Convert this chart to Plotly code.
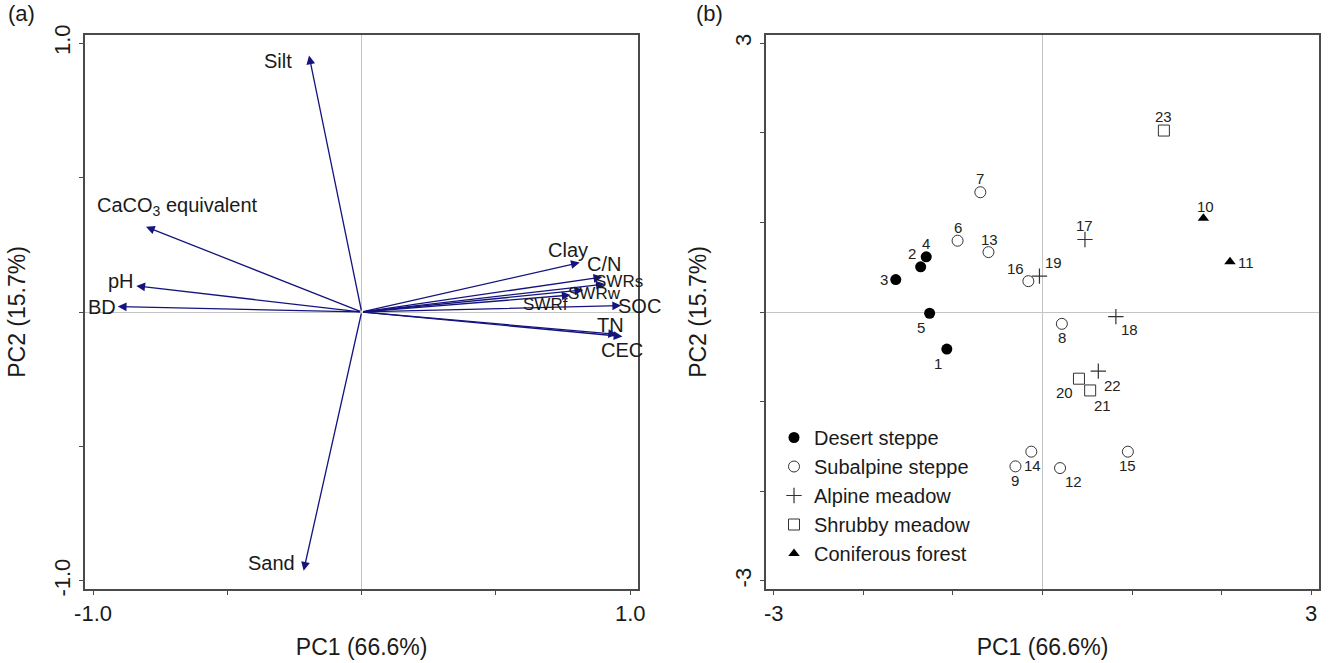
import plotly.graph_objects as go

# ---------------- Panel (a): variable loadings ----------------
variables = ["Silt", "Sand", "CaCO<sub>3</sub> equivalent", "pH", "BD", "Clay", "C/N",
             "SWRs", "SWRw", "SWRf", "SOC", "TN", "CEC"]
pc1_load = [-0.196, -0.216, -0.803, -0.839, -0.908, 0.812, 0.896,
            0.905, 0.825, 0.778, 0.966, 0.951, 0.971]
pc2_load = [0.954, -0.962, 0.317, 0.097, 0.020, 0.184, 0.130,
            0.104, 0.082, 0.063, 0.024, -0.083, -0.091]

# ---------------- Panel (b): site scores ----------------
site_ids = [str(i) for i in range(1, 24)]
pc1_score = [-1.068, -1.360, -1.638, -1.298, -1.260, -0.948, -0.694, 0.216, -0.302, 1.796,
             2.093, 0.196, -0.603, -0.125, 0.953, -0.158, 0.474, 0.819, -0.034, 0.407,
             0.532, 0.623, 1.355]
pc2_score = [-0.414, 0.504, 0.362, 0.616, -0.014, 0.795, 1.336, -0.132, -1.722, 1.045,
             0.560, -1.741, 0.668, -1.558, -1.558, 0.344, 0.809, -0.052, 0.400, -0.744,
             -0.875, -0.659, 2.024]
vegetation = ["Desert steppe", "Desert steppe", "Desert steppe", "Desert steppe", "Desert steppe",
              "Subalpine steppe", "Subalpine steppe", "Subalpine steppe", "Subalpine steppe",
              "Coniferous forest", "Coniferous forest", "Subalpine steppe", "Subalpine steppe",
              "Subalpine steppe", "Subalpine steppe", "Subalpine steppe", "Alpine meadow",
              "Alpine meadow", "Alpine meadow", "Shrubby meadow", "Shrubby meadow",
              "Alpine meadow", "Shrubby meadow"]
veg_order = ["Desert steppe", "Subalpine steppe", "Alpine meadow", "Shrubby meadow", "Coniferous forest"]

# ---------------- styles ----------------
FONT = "Liberation Sans, Arial, sans-serif"
ARROW = "#14147e"
FRAME = "#4a4a4a"
veg_style = {
    "Desert steppe": dict(symbol="circle", size=11, color="black", lw=0),
    "Subalpine steppe": dict(symbol="circle-open", size=11, color="#333", lw=1),
    "Alpine meadow": dict(symbol="cross-thin-open", size=11, color="#333", lw=1.2),
    "Shrubby meadow": dict(symbol="square-open", size=11, color="#333", lw=1),
    "Coniferous forest": dict(symbol="triangle-up", size=10, color="black", lw=0),
}
# label offsets (pixels: dx right, dy up) and font size for panel (a)
load_label_style = {
    "Silt": (-31, -6, 20), "Sand": (-32, 8, 20), "CaCO<sub>3</sub> equivalent": (32, 20, 20),
    "pH": (-15, 5, 20), "BD": (-16, 0, 20), "Clay": (-12, 13, 20), "C/N": (2, 13, 20),
    "SWRs": (14, 3, 17), "SWRw": (11, -4, 17), "SWRf": (-25, -9, 17), "SOC": (18, 0, 20),
    "TN": (-7, 9, 20), "CEC": (0, -14, 20),
}
# label offsets for panel (b)
site_label_off = {
    "1": (-9, -14), "2": (-9, 13), "3": (-12, 0), "4": (0, 13), "5": (-9, -14), "6": (0, 13),
    "7": (0, 14), "8": (0, -14), "9": (0, -14), "10": (2, 12), "11": (16, -1), "12": (13, -13),
    "13": (1, 13), "14": (1, -14), "15": (0, -14), "16": (-13, 13), "17": (0, 14),
    "18": (14, -13), "19": (14, 14), "20": (-14, -14), "21": (12, -15), "22": (14, -14),
    "23": (0, 14),
}

fig = go.Figure()

# invisible trace to anchor panel (a) axes
fig.add_trace(go.Scatter(x=pc1_load, y=pc2_load, mode="markers", marker=dict(size=1, opacity=0),
                         showlegend=False, hoverinfo="skip", xaxis="x", yaxis="y"))

annotations = []
for name, x, y in zip(variables, pc1_load, pc2_load):
    annotations.append(dict(x=x, y=y, ax=0, ay=0, xref="x", yref="y", axref="x", ayref="y",
                            text="", showarrow=True, arrowhead=2, arrowsize=1.35, arrowwidth=1.3,
                            arrowcolor=ARROW))
for name, x, y in zip(variables, pc1_load, pc2_load):
    dx, dy, fs = load_label_style[name]
    annotations.append(dict(x=x, y=y, xref="x", yref="y", text=name, showarrow=False,
                            xshift=dx, yshift=dy, font=dict(size=fs, color="#1a1a1a", family=FONT)))

for veg in veg_order:
    idx = [i for i, v in enumerate(vegetation) if v == veg]
    st = veg_style[veg]
    fig.add_trace(go.Scatter(
        x=[pc1_score[i] for i in idx], y=[pc2_score[i] for i in idx], mode="markers",
        name=veg, legendgroup=veg,
        marker=dict(symbol=st["symbol"], size=st["size"], color=st["color"],
                    line=dict(width=st["lw"], color=st["color"])),
        xaxis="x2", yaxis="y2"))

for sid, x, y in zip(site_ids, pc1_score, pc2_score):
    dx, dy = site_label_off[sid]
    annotations.append(dict(x=x, y=y, xref="x2", yref="y2", text=sid, showarrow=False,
                            xshift=dx, yshift=dy, font=dict(size=15, color="#222", family=FONT)))

annotations.append(dict(x=0.0, y=1.0, xref="paper", yref="paper", text="(a)", showarrow=False,
                        xanchor="left", yanchor="top", xshift=6, yshift=1,
                        font=dict(size=22, color="#1a1a1a", family=FONT)))
annotations.append(dict(x=0.518, y=1.0, xref="paper", yref="paper", text="(b)", showarrow=False,
                        xanchor="left", yanchor="top", xshift=4, yshift=1,
                        font=dict(size=22, color="#1a1a1a", family=FONT)))

W, H = 1332, 663
ax_common = dict(showgrid=False, zeroline=True, zerolinecolor="#c4c4c4", zerolinewidth=1,
                 showline=True, mirror=True, linecolor=FRAME, linewidth=1.5,
                 ticks="outside", ticklen=4, tickcolor=FRAME, tickwidth=1, automargin=False,
                 tickfont=dict(size=22, color="#1a1a1a", family=FONT))

fig.update_layout(
    width=W, height=H, margin=dict(l=0, r=0, t=0, b=0, autoexpand=False),
    paper_bgcolor="white", plot_bgcolor="white",
    font=dict(family=FONT, color="#1a1a1a"),
    xaxis=dict(domain=[85 / W, 638.3 / W], range=[-1.03, 1.03], anchor="y",
               tickvals=[-1, -0.5, 0, 0.5, 1], ticktext=["-1.0", "", "", "", "1.0"],
               title=dict(text="PC1 (66.6%)", font=dict(size=23), standoff=14),
               ticklabelstandoff=0, **ax_common),
    yaxis=dict(domain=[1 - 589 / H, 1 - 35 / H], range=[-1.03, 1.03], anchor="x",
               tickvals=[-1, -0.5, 0, 0.5, 1], ticktext=["-1.0", "", "", "", "1.0"],
               tickangle=-90,
               title=dict(text="PC2 (15.7%)", font=dict(size=23), standoff=18),
               ticklabelstandoff=0, **ax_common),
    xaxis2=dict(domain=[765.7 / W, 1319.3 / W], range=[-3.09, 3.09], anchor="y2",
                tickvals=[-3, -2, -1, 0, 1, 2, 3], ticktext=["-3", "", "", "", "", "", "3"],
                title=dict(text="PC1 (66.6%)", font=dict(size=23), standoff=14),
                ticklabelstandoff=0, **ax_common),
    yaxis2=dict(domain=[1 - 589 / H, 1 - 35 / H], range=[-3.09, 3.09], anchor="x2",
                tickvals=[-3, -2, -1, 0, 1, 2, 3], ticktext=["-3", "", "", "", "", "", "3"],
                tickangle=-90,
                title=dict(text="PC2 (15.7%)", font=dict(size=23), standoff=18),
                ticklabelstandoff=0, **ax_common),
    legend=dict(x=774 / W, y=1 - 418 / H, xanchor="left", yanchor="top",
                bgcolor="rgba(0,0,0,0)", font=dict(size=20, family=FONT, color="#1a1a1a"),
                tracegroupgap=0, itemsizing="trace"),
    annotations=annotations,
    showlegend=True,
)

fig.write_html("out.html")
